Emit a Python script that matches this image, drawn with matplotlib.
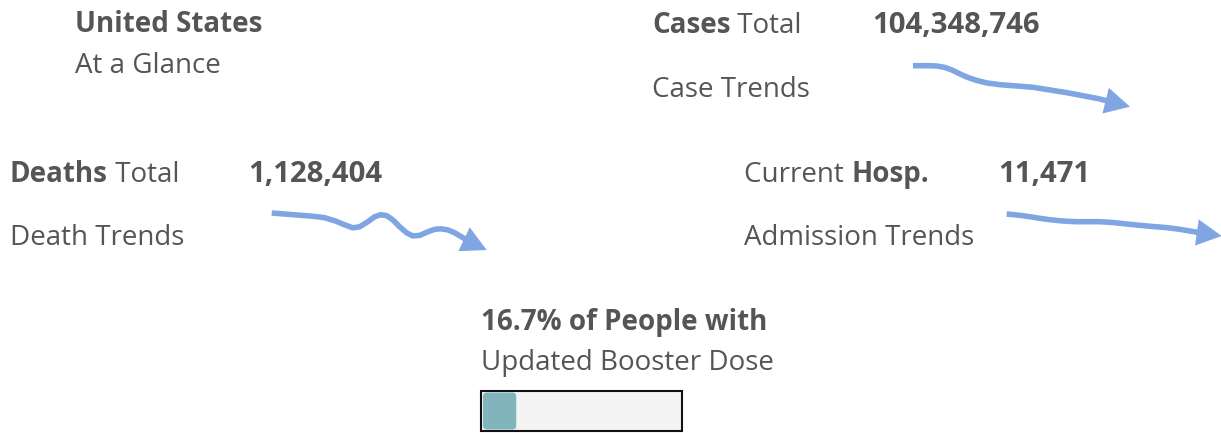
import matplotlib
matplotlib.use("Agg")
import matplotlib.pyplot as plt
from matplotlib.patches import FancyBboxPatch, Rectangle

# Datos del panel
region = "United States"
cases_total = "104,348,746"
deaths_total = "1,128,404"
hosp_current = "11,471"
booster_pct = 16.7

# Tendencias (unidades relativas)
case_days = [0, 14, 24, 32, 39, 47, 55, 64, 74, 87, 104, 120, 137, 154, 170, 187, 200, 217]
case_vals = [44.3, 44.3, 44, 42.5, 40, 36, 32.5, 29.5, 27, 25.3, 24, 22.7, 20, 17.3, 14.3, 11, 7.5, 3.3]

death_days = [0, 13, 28, 43, 53, 63, 73, 81, 88, 96, 103, 109, 115, 121, 128, 135,
              141, 148, 156, 163, 169, 176, 183, 190, 198, 215]
death_vals = [36.7, 35.7, 34.5, 33.3, 32, 29, 25, 22, 23, 28, 33, 35, 34, 30, 23, 17,
              14, 14.5, 18, 20.5, 21, 20, 17, 13, 8, 0]

hosp_days = [0, 13, 23, 33, 43, 56, 69, 83, 93, 106, 120, 133, 146, 159, 173, 185, 196, 215]
hosp_vals = [22, 20.7, 19.3, 17.7, 16.3, 15, 14.3, 14.3, 14.3, 13.5, 12, 10.7, 9.5, 8.5,
             6.7, 4.7, 2.7, 0]

TEXT = "#555555"
LINE = "#7FA6E3"
FONT = "Open Sans"
FS = 20
FS_NUM = 21.2
W, H = 1221, 433

fig = plt.figure(figsize=(W / 100, H / 100), dpi=100)
fig.patch.set_facecolor("white")
ax = fig.add_axes([0, 0, 1, 1])
ax.set_xlim(0, W)
ax.set_ylim(H, 0)
ax.axis("off")
renderer = fig.canvas.get_renderer()


def label(x, y, parts, size=FS):
    # parts: lista de (texto, negrita)
    for txt, bold in parts:
        t = ax.text(x, y, txt, fontsize=size, family=FONT, color=TEXT,
                    fontweight="bold" if bold else "normal", va="baseline", ha="left")
        bb = t.get_window_extent(renderer)
        x += bb.width


def sparkline(days, vals, left, right, top, bottom):
    sax = fig.add_axes([left / W, 1 - bottom / H, (right - left) / W, (bottom - top) / H])
    sax.set_xlim(min(days), max(days))
    sax.set_ylim(min(vals), max(vals))
    sax.axis("off")
    sax.plot(days[:-1], vals[:-1], color=LINE, lw=4, solid_capstyle="butt",
             solid_joinstyle="round", clip_on=False)
    sax.annotate("", xy=(days[-1], vals[-1]), xytext=(days[-2], vals[-2]),
                 arrowprops=dict(arrowstyle="-|>,head_length=0.95,head_width=0.5",
                                 color=LINE, lw=0, shrinkA=0, shrinkB=0,
                                 mutation_scale=19),
                 annotation_clip=False)


label(75, 31.5, [(region, True)])
label(75, 73, [("At a Glance", False)])

label(652, 33, [("Cases", True), (" Total", False)])
label(872, 33, [(cases_total, True)], FS_NUM)
label(652, 97, [("Case Trends", False)])
sparkline(case_days, case_vals, 913, 1130, 65.7, 106.7)

label(10, 182, [("Deaths", True), (" Total", False)])
label(248, 182, [(deaths_total, True)], FS_NUM)
label(10, 245, [("Death Trends", False)])
sparkline(death_days, death_vals, 271.7, 486.7, 213, 250)

label(744, 182, [("Current ", False), ("Hosp.", True)])
label(998, 182, [(hosp_current, True)], FS_NUM)
label(744, 245, [("Admission Trends", False)])
sparkline(hosp_days, hosp_vals, 1006.7, 1221.7, 214, 236)

label(481, 330, [(f"{booster_pct}% of People with", True)])
label(481, 370, [("Updated Booster Dose", False)])

# Barra de progreso
bx0, bx1, by0, by1 = 481, 682, 391, 431
ax.add_patch(Rectangle((bx0, by0), bx1 - bx0, by1 - by0, facecolor="#F4F4F4",
                       edgecolor="#111111", lw=1.5))
fill_w = (bx1 - bx0 - 2) * booster_pct / 100
ax.add_patch(FancyBboxPatch((bx0 + 2, by0 + 1.5), fill_w, by1 - by0 - 3,
                            boxstyle="round,pad=0,rounding_size=4",
                            facecolor="#82B4BC", edgecolor="none"))

fig.savefig("out.png", dpi=100, facecolor="white")
